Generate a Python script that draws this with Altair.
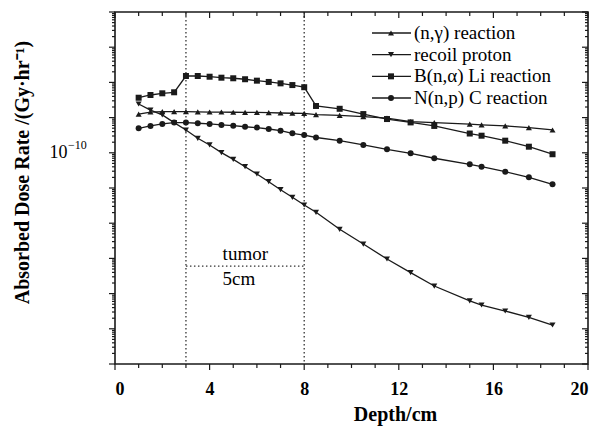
import altair as alt
import pandas as pd

# Depth grid (cm) shared by all four dose components
depth = [1, 1.5, 2, 2.5, 3, 3.5, 4, 4.5, 5, 5.5, 6, 6.5, 7, 7.5, 8, 8.5,
         9.5, 10.5, 11.5, 12.5, 13.5, 15, 15.5, 16.5, 17.5, 18.5]

# Absorbed dose rate (Gy/hr) per component
n_gamma = [1.26e-9, 1.44e-9, 1.47e-9, 1.47e-9, 1.47e-9, 1.46e-9, 1.44e-9, 1.44e-9,
           1.42e-9, 1.41e-9, 1.40e-9, 1.38e-9, 1.35e-9, 1.33e-9, 1.31e-9, 1.22e-9,
           1.15e-9, 1.06e-9, 9.7e-10, 7.7e-10, 7.2e-10, 6.5e-10, 6.2e-10, 5.8e-10,
           5.2e-10, 4.45e-10]
recoil = [2.43e-9, 1.64e-9, 1.19e-9, 7.2e-10, 4.45e-10, 2.58e-10, 1.67e-10, 1.01e-10,
          6.5e-11, 4.03e-11, 2.5e-11, 1.51e-11, 8.95e-12, 5.44e-12, 3.29e-12, 2.04e-12,
          6.7e-13, 2.56e-13, 9.6e-14, 3.93e-14, 1.64e-14, 6.2e-15, 4.74e-15, 3.2e-15,
          2.12e-15, 1.28e-15]
boron = [3.67e-9, 4.39e-9, 4.90e-9, 5.24e-9, 1.52e-8, 1.52e-8, 1.45e-8, 1.36e-8,
         1.31e-8, 1.23e-8, 1.12e-8, 1.03e-8, 9.4e-9, 8.4e-9, 7.3e-9, 2.14e-9,
         1.78e-9, 1.26e-9, 9.1e-10, 7.3e-10, 5.8e-10, 3.53e-10, 3.06e-10, 2.21e-10,
         1.49e-10, 9.1e-11]
nitrogen = [4.97e-10, 5.8e-10, 6.6e-10, 7.2e-10, 7.2e-10, 6.9e-10, 6.6e-10, 6.2e-10,
            5.9e-10, 5.5e-10, 5.2e-10, 4.74e-10, 4.25e-10, 3.58e-10, 3.2e-10, 2.72e-10,
            2.21e-10, 1.67e-10, 1.26e-10, 9.7e-11, 7.0e-11, 4.7e-11, 4.03e-11, 2.9e-11,
            2.01e-11, 1.27e-11]

series_names = ["(n,γ) reaction", "recoil proton", "B(n,α) Li reaction", "N(n,p) C reaction"]
series_shapes = ["triangle-up", "triangle-down", "square", "circle"]
series_sizes = [36, 36, 24, 18]
series_values = [n_gamma, recoil, boron, nitrogen]

# Tumor region boundaries (cm) and its annotation
tumor_edges = [3, 8]
tumor_label = "tumor"
tumor_width_label = "5cm"

# Axis ticks
x_label_ticks = [0, 4, 8, 12, 16, 20]
x_minor_ticks = [v for v in range(0, 21) if v not in x_label_ticks]
y_label_tick = 1e-10
y_decades = [10.0 ** k for k in range(-16, -5)]
y_minor_ticks = [m * 10.0 ** k for k in range(-16, -6) for m in range(2, 10)]

rows = []
for name, vals in zip(series_names, series_values):
    for d, v in zip(depth, vals):
        rows.append({"depth": d, "rate": v, "series": name})
df = pd.DataFrame(rows)

W, H = 473, 352
SERIF = "Liberation Serif"
INK = "#1a1a1a"

xscale = alt.Scale(domain=[0, 20], nice=False, zero=False)
yscale = alt.Scale(type="log", domain=[1e-16, 1e-6], nice=False)
shape_scale = alt.Scale(domain=series_names, range=series_shapes)
size_scale = alt.Scale(domain=series_names, range=series_sizes)

x_axis = alt.Axis(values=x_label_ticks, ticks=False, tickSize=0, domain=False, grid=False,
                  labelFont=SERIF, labelFontWeight="bold", labelFontSize=18,
                  labelColor="black", labelPadding=16, format="d",
                  title="Depth/cm", titleFont=SERIF, titleFontWeight="bold",
                  titleFontSize=20, titleColor="black", titleX=280, titleY=50,
                  titleBaseline="middle")
y_axis = alt.Axis(values=[y_label_tick], labelExpr="'10'", ticks=False, tickSize=0,
                  domain=False, grid=False, labelFont=SERIF, labelFontSize=18,
                  labelColor="black", labelPadding=48,
                  title="Absorbed Dose Rate /(Gy·hr⁻¹)", titleFont=SERIF,
                  titleFontWeight="bold", titleFontSize=20, titleColor="black",
                  titleX=-93, titleY=160, titleBaseline="middle", titleAngle=-90)

X = alt.X("depth:Q", scale=xscale, axis=x_axis)
Y = alt.Y("rate:Q", scale=yscale, axis=y_axis)

lines = alt.Chart(df).mark_line(color=INK, strokeWidth=1.3).encode(
    x=X, y=Y, detail="series:N")
points = alt.Chart(df).mark_point(filled=True, color=INK, opacity=1).encode(
    x=X, y=Y,
    shape=alt.Shape("series:N", scale=shape_scale, legend=None),
    size=alt.Size("series:N", scale=size_scale, legend=None))

# Exponent of the y tick label
exp_df = pd.DataFrame({"rate": [y_label_tick], "text": ["−10"]})
exponent = alt.Chart(exp_df).mark_text(font=SERIF, fontSize=12, align="left",
                                       baseline="middle", dy=-8, color="black").encode(
    y=Y, x=alt.value(-47), text="text:N")

# Tumor boundaries and width marker
edges_df = pd.DataFrame({"depth": tumor_edges})
edges = alt.Chart(edges_df).mark_rule(color="#333", strokeWidth=1.3,
                                      strokeDash=[1.5, 2.5]).encode(x=X)
span_df = pd.DataFrame({"depth": [tumor_edges[0]], "depth2": [tumor_edges[1]],
                        "rate": [6e-14]})
span = alt.Chart(span_df).mark_rule(color="#333", strokeWidth=1.3,
                                    strokeDash=[1.5, 2.5]).encode(
    x=X, x2="depth2:Q", y=Y)
notes_df = pd.DataFrame({"depth": [4.55, 4.55], "rate": [1.33e-13, 2.6e-14],
                         "text": [tumor_label, tumor_width_label]})
notes = alt.Chart(notes_df).mark_text(font=SERIF, fontSize=19, align="left",
                                      baseline="middle", color="black").encode(
    x=X, y=Y, text="text:N")

# Frame ticks: outward on left/bottom, inward on top/right
def yticks(vals, x0, x1):
    return alt.Chart(pd.DataFrame({"rate": vals})).mark_rule(
        color=INK, strokeWidth=1.2).encode(y=Y, x=alt.value(x0), x2=alt.value(x1))

def xticks(vals, y0, y1):
    return alt.Chart(pd.DataFrame({"depth": vals})).mark_rule(
        color=INK, strokeWidth=1.2).encode(x=X, y=alt.value(y0), y2=alt.value(y1))

ticks = [
    yticks(y_decades, 0, -6), yticks(y_minor_ticks, 0, -3),
    yticks(y_decades, W, W - 6), yticks(y_minor_ticks, W, W - 3),
    xticks(x_label_ticks, H, H + 6), xticks(x_minor_ticks, H, H + 4),
    xticks(x_label_ticks, 0, 6), xticks(x_minor_ticks, 0, 4),
]

main = alt.layer(edges, span, notes, lines, points, exponent, *ticks)

# Legend drawn in its own row space
leg_df = pd.DataFrame({"series": series_names, "row": list(range(len(series_names)))})
LY = alt.Y("row:Q", scale=alt.Scale(domain=[0, 3], range=[21, 86]), axis=None)
leg_lines = alt.Chart(leg_df).mark_rule(color=INK, strokeWidth=1.3).encode(
    y=LY, x=alt.value(257), x2=alt.value(296))
leg_pts = alt.Chart(leg_df).mark_point(filled=True, color=INK, opacity=1).encode(
    y=LY, x=alt.value(276),
    shape=alt.Shape("series:N", scale=shape_scale, legend=None),
    size=alt.Size("series:N", scale=size_scale, legend=None))
leg_text = alt.Chart(leg_df).mark_text(font=SERIF, fontSize=19, align="left",
                                       baseline="middle", color="black").encode(
    y=LY, x=alt.value(299), text="series:N")
legend = alt.layer(leg_lines, leg_pts, leg_text)

chart = alt.layer(main, legend).resolve_scale(y="independent").properties(
    width=W, height=H, autosize="none",
    padding={"left": 115, "top": 12, "right": 10, "bottom": 70},
    background="white",
).configure_view(stroke=INK, strokeWidth=1.6)

chart.save("out.html", embed_options={"renderer": "svg", "actions": False})
